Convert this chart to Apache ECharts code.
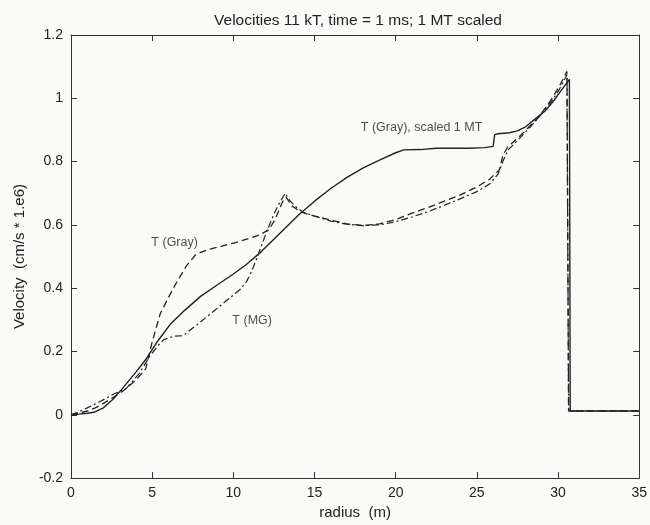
<!DOCTYPE html>
<html>
<head>
<meta charset="utf-8">
<script src="https://cdn.jsdelivr.net/npm/echarts@6/dist/echarts.min.js"></script>
<style>
html,body{margin:0;padding:0;background:#fafaf8;}
#chart{width:650px;height:525px;}
</style>
</head>
<body>
<div id="chart"></div>
<script>
// T (Gray), scaled 1 MT  (solid)
var scaledX = [0, 0.5, 1.0, 1.4, 2.0, 2.6, 3.2, 4.0, 4.65, 5.3, 6.1, 7.0, 8.0, 9.0, 10.0, 10.8, 11.6, 12.4, 13.2, 14.05, 15.0, 16.0, 17.0, 18.0, 19.0, 20.0, 20.5, 21.5, 22.5, 23.5, 24.5, 25.5, 26.0, 26.1, 26.3, 27.0, 27.5, 28.0, 28.6, 29.2, 29.7, 30.2, 30.7, 30.75, 35];
var scaledY = [0, 0.002, 0.005, 0.008, 0.022, 0.05, 0.085, 0.135, 0.178, 0.23, 0.285, 0.33, 0.375, 0.41, 0.445, 0.475, 0.51, 0.55, 0.59, 0.633, 0.675, 0.715, 0.75, 0.78, 0.805, 0.828, 0.837, 0.838, 0.842, 0.842, 0.842, 0.844, 0.848, 0.885, 0.888, 0.891, 0.897, 0.91, 0.935, 0.96, 0.99, 1.025, 1.06, 0.012, 0.012];
// T (Gray)  (dashed)
var grayX = [0, 0.5, 1.0, 1.5, 2.0, 2.6, 3.2, 4.0, 4.6, 5.0, 5.5, 6.3, 7.1, 7.7, 8.5, 9.3, 10.2, 11.0, 11.6, 12.2, 12.6, 13.0, 13.25, 13.6, 14.2, 15.0, 16.0, 17.0, 18.0, 19.0, 20.0, 21.0, 22.0, 23.0, 24.0, 25.0, 25.8, 26.4, 26.6, 26.9, 27.7, 28.8, 29.6, 30.1, 30.55, 30.65, 35];
var grayY = [0, 0.005, 0.012, 0.022, 0.036, 0.055, 0.075, 0.11, 0.145, 0.23, 0.32, 0.4, 0.47, 0.507, 0.523, 0.533, 0.545, 0.558, 0.568, 0.585, 0.62, 0.67, 0.688, 0.66, 0.64, 0.628, 0.615, 0.603, 0.598, 0.603, 0.617, 0.637, 0.655, 0.675, 0.695, 0.72, 0.745, 0.775, 0.82, 0.846, 0.883, 0.94, 0.997, 1.04, 1.085, 0.012, 0.012];
// T (MG)  (dash-dot)
var mgX = [0, 0.5, 1.0, 1.8, 2.6, 3.4, 4.2, 4.85, 5.3, 5.7, 6.3, 6.9, 7.4, 7.9, 8.9, 9.8, 10.4, 10.8, 11.1, 11.4, 11.7, 12.0, 12.3, 12.6, 12.9, 13.2, 13.5, 13.9, 14.3, 15.0, 16.0, 17.0, 18.0, 19.0, 20.0, 21.0, 22.0, 23.0, 24.0, 25.0, 25.8, 26.3, 26.6, 26.9, 27.6, 28.3, 28.9, 29.6, 30.1, 30.55, 30.65, 35];
var mgY = [0, 0.01, 0.022, 0.042, 0.065, 0.083, 0.13, 0.185, 0.215, 0.237, 0.248, 0.25, 0.27, 0.29, 0.332, 0.37, 0.395, 0.42, 0.45, 0.488, 0.53, 0.571, 0.61, 0.645, 0.675, 0.7, 0.675, 0.655, 0.64, 0.628, 0.612, 0.602, 0.598, 0.6, 0.61, 0.625, 0.642, 0.662, 0.683, 0.705, 0.73, 0.76, 0.8, 0.835, 0.872, 0.91, 0.945, 0.99, 1.03, 1.075, 0.012, 0.012];

// in-plot text labels (data coordinates of left edge / middle)
var noteText = ['T (Gray), scaled 1 MT', 'T (Gray)', 'T (MG)'];
var noteX = [17.85, 4.95, 9.94];
var noteY = [0.907, 0.545, 0.299];

var titleText = 'Velocities 11 kT, time = 1 ms; 1 MT scaled';
var xName = 'radius  (m)';
var yName = 'Velocity  (cm/s * 1.e6)';

function zip(a, b) { return a.map(function (v, i) { return [v, b[i]]; }); }

var FONT = '"Liberation Sans", Arial, sans-serif';
var INK = '#222';
var frameColor = '#333';

var chart = echarts.init(document.getElementById('chart'));

var baseAxis = {
  axisLine: { show: true, onZero: false, lineStyle: { color: frameColor, width: 1 } },
  axisTick: { show: true, inside: true, length: 6, lineStyle: { color: frameColor } },
  splitLine: { show: false }
};

chart.setOption({
  backgroundColor: '#fafaf8',
  animation: false,
  title: {
    text: titleText,
    left: 353, top: 8, textAlign: 'center',
    textStyle: { fontFamily: FONT, fontSize: 15.5, fontWeight: 'normal', color: INK }
  },
  grid: { left: 71, right: 9, top: 35, bottom: 40.5 },
  xAxis: [
    Object.assign({}, baseAxis, {
      type: 'value', min: 0, max: 35, interval: 5, position: 'bottom',
      name: xName, nameLocation: 'middle', nameGap: 21,
      nameTextStyle: { fontFamily: FONT, fontSize: 15, color: INK },
      axisLabel: { fontFamily: FONT, fontSize: 14, color: INK, margin: 8 }
    }),
    Object.assign({}, baseAxis, {
      type: 'value', min: 0, max: 35, interval: 5, position: 'top',
      axisLabel: { show: false }
    })
  ],
  yAxis: [
    Object.assign({}, baseAxis, {
      type: 'value', min: -0.2, max: 1.2, interval: 0.2, position: 'left',
      name: yName, nameLocation: 'middle', nameGap: 44,
      nameTextStyle: { fontFamily: FONT, fontSize: 15, color: INK },
      axisLabel: {
        fontFamily: FONT, fontSize: 14, color: INK, margin: 8,
        formatter: function (v) { var r = Math.round(v * 10) / 10; return r === 0 ? '0' : String(r); }
      }
    }),
    Object.assign({}, baseAxis, {
      type: 'value', min: -0.2, max: 1.2, interval: 0.2, position: 'right',
      axisLabel: { show: false }
    })
  ],
  series: [
    {
      name: 'T (Gray), scaled 1 MT', type: 'line', data: zip(scaledX, scaledY),
      showSymbol: false, symbol: 'none', smooth: false,
      lineStyle: { color: INK, width: 1.4, type: 'solid' }
    },
    {
      name: 'T (Gray)', type: 'line', data: zip(grayX, grayY),
      showSymbol: false, symbol: 'none', smooth: false,
      lineStyle: { color: INK, width: 1.3, type: [7, 4] }
    },
    {
      name: 'T (MG)', type: 'line', data: zip(mgX, mgY),
      showSymbol: false, symbol: 'none', smooth: false,
      lineStyle: { color: INK, width: 1.2, type: [7, 3, 2, 3] }
    },
    {
      type: 'scatter', symbolSize: 0, silent: true,
      data: noteText.map(function (t, i) { return { value: [noteX[i], noteY[i]], name: t }; }),
      label: {
        show: true, position: 'right', distance: 0,
        formatter: function (p) { return p.name; },
        fontFamily: FONT, fontSize: 12.5, color: INK, align: 'left', verticalAlign: 'middle'
      }
    }
  ]
});
</script>
</body>
</html>
